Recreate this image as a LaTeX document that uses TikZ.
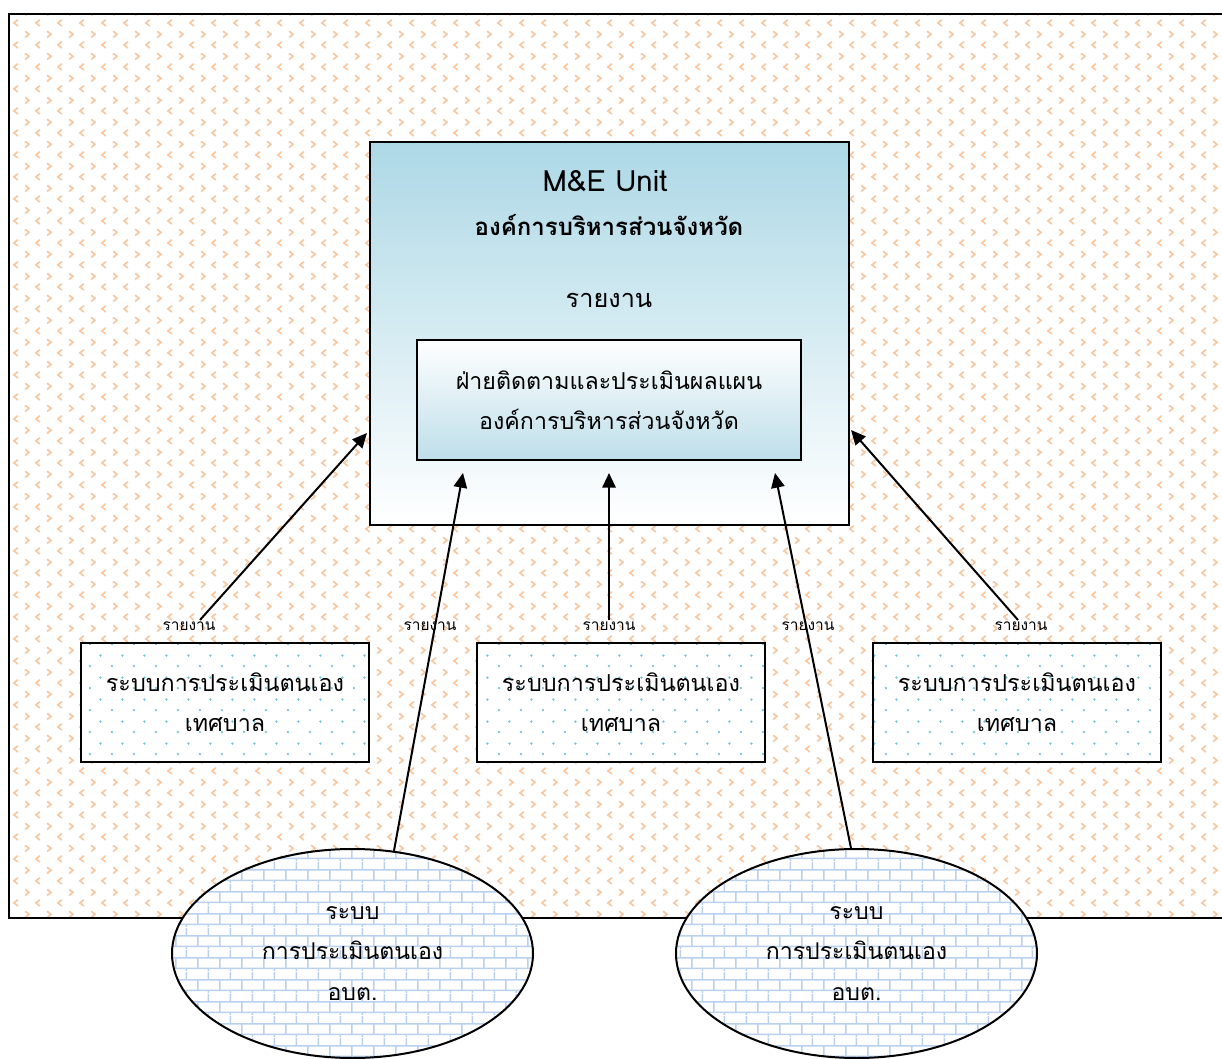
\documentclass[tikz,border=0pt]{standalone}
\usepackage{fontspec}
\setmainfont[Script=Thai]{Loma}
\usepackage{tikz}
\usetikzlibrary{arrows.meta,shapes.geometric,patterns.meta}

\definecolor{chevcol}{RGB}{248,200,162}
\definecolor{dotcol}{RGB}{120,195,220}
\definecolor{brickcol}{RGB}{185,208,238}
\definecolor{topblue}{RGB}{173,216,230}
\definecolor{lowblue}{RGB}{190,222,233}

\tikzdeclarepattern{
  name=chevrons, type=colored,
  bottom left={(0pt,0pt)}, top right={(16.125pt,16.125pt)},
  tile size={(16.125pt,16.125pt)},
  code={
    \draw[chevcol,line width=1.3pt] (2.4pt,14.4pt) -- (5.4pt,12pt) -- (2.4pt,9.6pt);
    \draw[chevcol,line width=1.3pt] (13.7pt,6.3pt) -- (10.7pt,3.9pt) -- (13.7pt,1.5pt);
  }
}
\tikzdeclarepattern{
  name=dotgrid, type=colored,
  bottom left={(0pt,0pt)}, top right={(16.125pt,16.125pt)},
  tile size={(16.125pt,16.125pt)},
  code={
    \fill[dotcol] (3pt,3pt) circle (1pt);
    \fill[dotcol] (11.06pt,11.06pt) circle (1pt);
  }
}
\tikzdeclarepattern{
  name=bricks, type=colored,
  bottom left={(0pt,0pt)}, top right={(16.125pt,16.125pt)},
  tile size={(16.125pt,16.125pt)},
  code={
    \draw[brickcol,line width=1.2pt] (0pt,2pt) -- (16.125pt,2pt) (0pt,10.06pt) -- (16.125pt,10.06pt);
    \draw[brickcol,line width=1.2pt] (3pt,2pt) -- (3pt,10.06pt) (11.06pt,10.06pt) -- (11.06pt,16.125pt) (11.06pt,0pt) -- (11.06pt,2pt);
  }
}

\tikzset{
    basebox/.style={draw=black,line width=1.5pt,inner sep=0pt,align=center},
    mebox/.style={basebox,rectangle,minimum width=359.25pt,minimum height=287.25pt,top color=topblue,bottom color=white},
    unitbox/.style={basebox,rectangle,minimum width=288pt,minimum height=90pt,top color=white,bottom color=lowblue,
        font=\fontsize{17.4}{30}\selectfont},
    selfbox/.style={basebox,rectangle,minimum width=216pt,minimum height=89.25pt,preaction={fill=white},pattern=dotgrid,
        font=\fontsize{17.5}{30}\selectfont},
    obtnode/.style={basebox,ellipse,minimum width=270.75pt,minimum height=156.75pt,preaction={fill=white},pattern=bricks,
        font=\fontsize{17.3}{30.4}\selectfont},
    metitle/.style={font=\fontsize{22}{24}\selectfont},
    mesub/.style={font=\fontsize{18}{20}\selectfont\bfseries},
    mereport/.style={font=\fontsize{19}{22}\selectfont},
    replabel/.style={inner sep=0pt,font=\fontsize{11.6}{12}\selectfont},
    link/.style={-{Triangle[length=11pt,width=10pt]},line width=1.5pt}
}

\begin{document}
\begin{tikzpicture}[x=0.75pt,y=-0.75pt]

\clip (0,0) rectangle (1222,1059);
\useasboundingbox (0,0) rectangle (1222,1059);

\fill[white] (0,0) rectangle (1222,1059);
\draw[line width=1.5pt,preaction={fill=white},pattern=chevrons] (9,14) rectangle (1240,918);

\node[mebox] (ME) at (609.5,333.5) {};
\node[metitle] (MEtitle) at (605,181) {M\&E Unit};
\node[mesub] (MEsub) at (609,225) {องค์การบริหารส่วนจังหวัด};
\node[mereport] (MErep) at (609,300) {รายงาน};
\node[unitbox] (unit) at (609,400) {ฝ่ายติดตามและประเมินผลแผน\\องค์การบริหารส่วนจังหวัด};

\node[selfbox] (muniA) at (225,702.5) {ระบบการประเมินตนเอง\\เทศบาล};
\node[selfbox] (muniB) at (621,702.5) {ระบบการประเมินตนเอง\\เทศบาล};
\node[selfbox] (muniC) at (1017,702.5) {ระบบการประเมินตนเอง\\เทศบาล};

\node[replabel] (repA) at (189,626) {รายงาน};
\node[replabel] (repB) at (430,626) {รายงาน};
\node[replabel] (repC) at (609,626) {รายงาน};
\node[replabel] (repD) at (808,626) {รายงาน};
\node[replabel] (repE) at (1021,626) {รายงาน};

\node[obtnode] (obtA) at (352.5,953.5) {ระบบ\\การประเมินตนเอง\\อบต.};
\node[obtnode] (obtB) at (856.5,953.5) {ระบบ\\การประเมินตนเอง\\อบต.};

\coordinate (tailA) at (200,620);
\coordinate (tailC) at (609,620);
\coordinate (tailE) at (1018,620);
\coordinate (headA) at (367,433);
\coordinate (headB) at (463,473);
\coordinate (headC) at (609,473);
\coordinate (headD) at (775,473);
\coordinate (headE) at (851,430);

\draw[link] (tailA) -- (headA);
\draw[link] (obtA.68) -- (headB);
\draw[link] (tailC) -- (headC);
\draw[link] (obtB.93) -- (headD);
\draw[link] (tailE) -- (headE);

\end{tikzpicture}
\end{document}
